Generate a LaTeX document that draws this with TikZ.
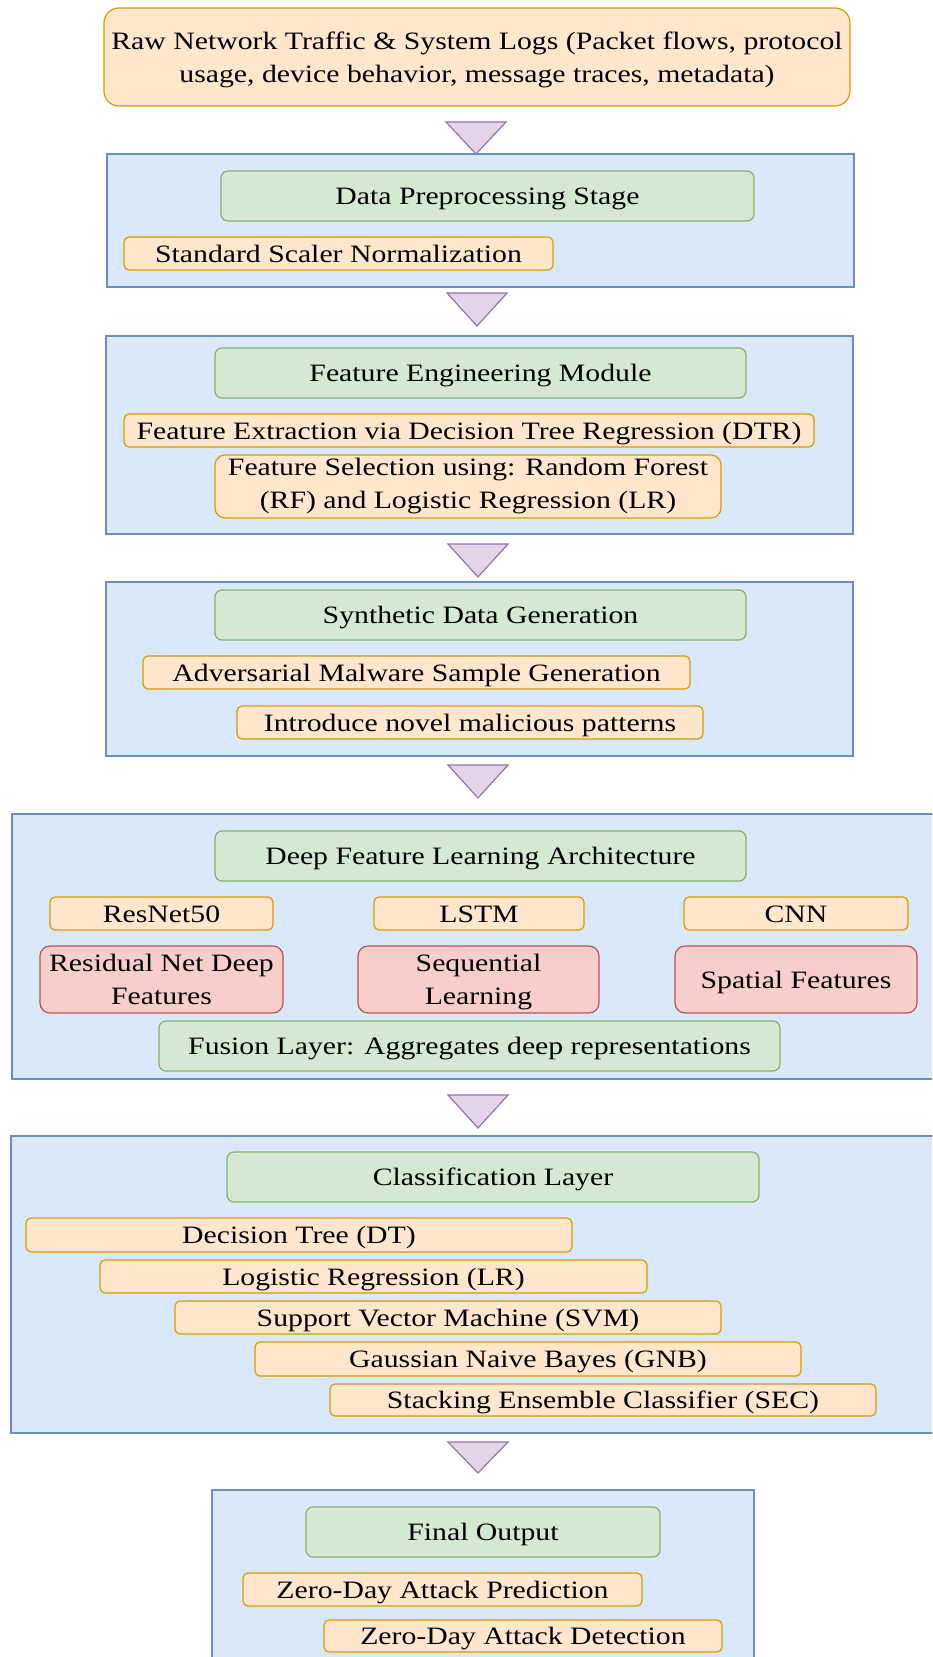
\documentclass[tikz,border=0pt]{standalone}
\usepackage{fontspec}
\setmainfont{Liberation Serif}[FakeStretch=1.19]

% node placed by its corner box: name, style, x1, y1, x2, y2, text
\newcommand\placebox[7]{%
  \node[#2, minimum width={(#5-#3)*1pt}, minimum height={(#6-#4)*1pt}]
    (#1) at ({(#3+#5)/2},{(#4+#6)/2}) {#7};}

% downward flow marker between two stages
\newcommand\flowtri[3]{%
  \draw[flowmark] (#1-30,#2) -- (#1+30,#2) -- (#1,#3) -- cycle;}

\tikzset{
  base/.style={draw, inner sep=0pt, align=center, line width=1.2pt},
  oneline/.style={text height=17.5pt, text depth=0pt},
  twolines/.style={text height=, text depth=},
  stage/.style={base, fill=stagefill, draw=stageline, rounded corners=0pt},
  head/.style={base, oneline, fill=headfill, draw=headline, rounded corners=7pt},
  item/.style={base, oneline, fill=itemfill, draw=itemline, rounded corners=5pt},
  itemtall/.style={item, twolines, rounded corners=10pt},
  feat/.style={base, twolines, fill=featfill, draw=featline, rounded corners=10pt},
  flowmark/.style={fill=markfill, draw=markline, line width=1.2pt, line join=miter},
}
\definecolor{stagefill}{HTML}{DAE8FC}
\definecolor{stageline}{HTML}{6C8EBF}
\definecolor{headfill}{HTML}{D5E8D4}
\definecolor{headline}{HTML}{82B366}
\definecolor{itemfill}{HTML}{FFE6CC}
\definecolor{itemline}{HTML}{D79B00}
\definecolor{featfill}{HTML}{F8CECC}
\definecolor{featline}{HTML}{B85450}
\definecolor{markfill}{HTML}{E1D5E7}
\definecolor{markline}{HTML}{9673A6}

\begin{document}
\begin{tikzpicture}[x=1pt, y=-1pt, font=\fontsize{25}{33}\selectfont]
\useasboundingbox (0,0) rectangle (932,1657);
\clip (0,0) rectangle (932,1657);

% input
\placebox{raw}{itemtall, rounded corners=15pt}{104}{8}{850}{106}{Raw Network Traffic \& System Logs (Packet flows, protocol\\\smash{usage, device behavior, message traces, metadata)}}
\flowtri{476}{122}{154}

% preprocessing
\placebox{prep}{stage}{107}{154}{854}{287}{}
\placebox{prephead}{head}{221}{171}{754}{221}{Data Preprocessing Stage}
\placebox{scaler}{item}{124}{237}{553}{270}{Standard Scaler Normalization}
\flowtri{477}{293}{326}

% feature engineering
\placebox{feng}{stage}{106}{336}{853}{534}{}
\placebox{fenghead}{head}{215}{348}{746}{398}{Feature Engineering Module}
\placebox{dtr}{item}{124}{414}{814}{447}{Feature Extraction via Decision Tree Regression (DTR)}
\placebox{fsel}{itemtall}{215}{455}{721}{518}{Feature Selection using: Random Forest\\(RF) and Logistic Regression (LR)}
\flowtri{478}{544}{577}

% synthetic data
\placebox{synth}{stage}{106}{582}{853}{756}{}
\placebox{synthhead}{head}{215}{590}{746}{640}{Synthetic Data Generation}
\placebox{advgen}{item}{143}{656}{690}{689}{Adversarial Malware Sample Generation}
\placebox{novel}{item}{237}{706}{703}{739}{Introduce novel malicious patterns}
\flowtri{478}{765}{798}

% deep feature learning
\placebox{deep}{stage}{12}{814}{945}{1079}{}
\placebox{deephead}{head}{215}{831}{746}{881}{Deep Feature Learning Architecture}
\placebox{resnet}{item}{50}{897}{273}{930}{ResNet50}
\placebox{lstm}{item}{374}{897}{584}{930}{LSTM}
\placebox{cnn}{item}{684}{897}{908}{930}{CNN}
\placebox{resfeat}{feat}{40}{946}{283}{1013}{Residual Net Deep\\Features}
\placebox{seqfeat}{feat}{358}{946}{599}{1013}{Sequential\\\smash{Learning}}
\placebox{spafeat}{feat, oneline}{675}{946}{917}{1013}{Spatial Features}
\placebox{fusion}{head}{159}{1021}{780}{1071}{Fusion Layer: Aggregates deep representations}
\flowtri{478}{1095}{1128}

% classification
\placebox{cls}{stage}{11}{1136}{945}{1433}{}
\placebox{clshead}{head}{227}{1152}{759}{1202}{Classification Layer}
\placebox{dt}{item}{26}{1218}{572}{1252}{Decision Tree (DT)}
\placebox{lr}{item}{100}{1260}{647}{1293}{Logistic Regression (LR)}
\placebox{svm}{item}{175}{1301}{721}{1334}{Support Vector Machine (SVM)}
\placebox{gnb}{item}{255}{1342}{801}{1376}{Gaussian Naive Bayes (GNB)}
\placebox{sec}{item}{330}{1384}{876}{1416}{Stacking Ensemble Classifier (SEC)}
\flowtri{478}{1442}{1473}

% output
\placebox{out}{stage}{212}{1490}{754}{1680}{}
\placebox{outhead}{head}{306}{1507}{660}{1557}{Final Output}
\placebox{pred}{item}{243}{1573}{642}{1606}{Zero-Day Attack Prediction}
\placebox{detect}{item}{324}{1620}{722}{1652}{Zero-Day Attack Detection}
\end{tikzpicture}
\end{document}
